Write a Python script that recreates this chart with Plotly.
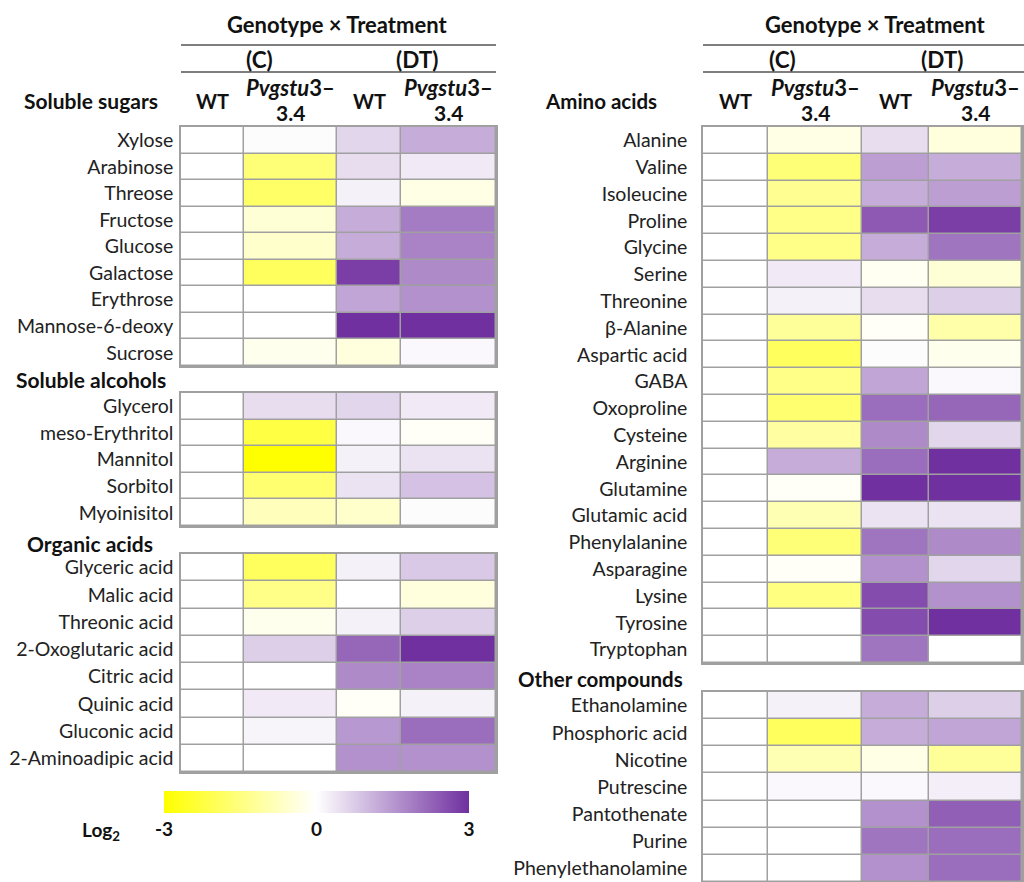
import plotly.graph_objects as go

# ---------------- data ----------------
columns = ["C-WT", "C-Pvgstu3-3.4", "DT-WT", "DT-Pvgstu3-3.4"]

sugars = ["Xylose", "Arabinose", "Threose", "Fructose", "Glucose", "Galactose",
          "Erythrose", "Mannose-6-deoxy", "Sucrose"]
sugars_z = [
    [0, 0.05, 0.6, 1.2],
    [0, -1.6, 0.5, 0.3],
    [0, -1.8, 0.2, -0.3],
    [0, -0.5, 1.2, 1.9],
    [0, -0.6, 1.2, 1.8],
    [0, -1.9, 2.8, 1.7],
    [0, 0.0, 1.3, 1.6],
    [0, 0.0, 3.0, 3.0],
    [0, -0.2, -0.4, 0.1],
]

alcohols = ["Glycerol", "meso-Erythritol", "Mannitol", "Sorbitol", "Myoinisitol"]
alcohols_z = [
    [0, 0.5, 0.6, 0.3],
    [0, -2.2, 0.1, -0.1],
    [0, -3.0, 0.2, 0.4],
    [0, -1.7, 0.4, 0.9],
    [0, -0.8, -0.6, 0.05],
]

acids = ["Glyceric acid", "Malic acid", "Threonic acid", "2-Oxoglutaric acid",
         "Citric acid", "Quinic acid", "Gluconic acid", "2-Aminoadipic acid"]
acids_z = [
    [0, -1.9, 0.2, 0.8],
    [0, -1.4, 0.0, -0.4],
    [0, -0.2, 0.2, 0.7],
    [0, 0.7, 2.2, 3.0],
    [0, 0.0, 1.7, 1.8],
    [0, 0.3, -0.1, 0.2],
    [0, 0.15, 1.5, 2.1],
    [0, 0.0, 1.6, 1.6],
]

amino = ["Alanine", "Valine", "Isoleucine", "Proline", "Glycine", "Serine",
         "Threonine", "β-Alanine", "Aspartic acid", "GABA", "Oxoproline",
         "Cysteine", "Arginine", "Glutamine", "Glutamic acid", "Phenylalanine",
         "Asparagine", "Lysine", "Tyrosine", "Tryptophan"]
amino_z = [
    [0, -0.3, 0.5, -0.4],
    [0, -1.6, 1.4, 1.2],
    [0, -1.3, 1.2, 1.4],
    [0, -1.4, 2.4, 2.8],
    [0, -1.4, 1.2, 2.0],
    [0, 0.3, -0.15, -0.5],
    [0, 0.2, 0.5, 0.7],
    [0, -1.2, -0.1, -1.0],
    [0, -1.9, 0.05, -0.2],
    [0, -1.4, 1.3, 0.1],
    [0, -1.7, 2.1, 2.2],
    [0, -1.1, 1.7, 0.6],
    [0, 1.2, 2.1, 3.0],
    [0, -0.1, 3.0, 3.0],
    [0, -0.9, 0.4, 0.4],
    [0, -1.6, 2.0, 1.7],
    [0, -0.1, 1.6, 0.6],
    [0, -1.5, 2.6, 1.6],
    [0, 0.0, 2.6, 3.0],
    [0, 0.0, 2.0, 0.0],
]

other = ["Ethanolamine", "Phosphoric acid", "Nicotine", "Putrescine",
         "Pantothenate", "Purine", "Phenylethanolamine"]
other_z = [
    [0, 0.2, 1.2, 0.7],
    [0, -1.9, 1.2, 1.3],
    [0, -0.9, -0.3, -1.2],
    [0, 0.1, 0.1, 0.25],
    [0, 0.0, 1.6, 2.3],
    [0, 0.0, 2.0, 2.1],
    [0, 0.0, 1.6, 2.1],
]

colorbar_ticks = [-3, 0, 3]

# ---------------- layout helpers (pixels) ----------------
W, H = 1024, 882
def px(x):
    return x / W
def py(y):
    return 1 - y / H

FONT = "Lato"
GRID = "#a0a0a0"

LEFT_EDGES = [181, 244, 337, 401, 496]
RIGHT_EDGES = [703, 768, 862, 929, 1022]

blocks = [
    # names, z, edges, top, bottom, ticklen
    (sugars, sugars_z, LEFT_EDGES, 127, 366, 2),
    (alcohols, alcohols_z, LEFT_EDGES, 393, 526, 2),
    (acids, acids_z, LEFT_EDGES, 554, 772, 2),
    (amino, amino_z, RIGHT_EDGES, 127, 663, 10),
    (other, other_z, RIGHT_EDGES, 692, 882, 10),
]

fig = go.Figure()
layout_axes = {}
for i, (names, z, edges, top, bot, tl) in enumerate(blocks, start=1):
    xa = "x" if i == 1 else f"x{i}"
    ya = "y" if i == 1 else f"y{i}"
    rel_edges = [e - edges[0] for e in edges]
    fig.add_trace(go.Heatmap(
        z=z, x=rel_edges, y=names, coloraxis="coloraxis",
        xgap=1.5, ygap=1.5, xaxis=xa, yaxis=ya,
        customdata=[columns] * len(names),
        hovertemplate="%{y}<br>%{customdata}: %{z}<extra></extra>",
    ))
    layout_axes["xaxis" if i == 1 else f"xaxis{i}"] = dict(
        domain=[px(edges[0]), px(edges[-1])], anchor=ya,
        range=[0, rel_edges[-1]], showticklabels=False, showgrid=False,
        zeroline=False, showline=True, mirror=True, linecolor=GRID, linewidth=1.5,
        ticks="", fixedrange=True,
    )
    layout_axes["yaxis" if i == 1 else f"yaxis{i}"] = dict(
        domain=[py(bot), py(top)], anchor=xa, autorange="reversed",
        type="category", showgrid=False, zeroline=False, showline=True,
        mirror=True, linecolor=GRID, linewidth=1.5,
        ticks="outside", ticklen=tl, tickcolor="rgba(0,0,0,0)",
        tickfont=dict(family=FONT, size=19.5, color="#222"), fixedrange=True,
    )

fig.update_layout(**layout_axes)

# ---------------- header annotations ----------------
ann = []
def text(x, y, t, size=19, bold=True, xanchor="center"):
    ann.append(dict(
        x=px(x), y=py(y), xref="paper", yref="paper", text=t, showarrow=False,
        xanchor=xanchor, yanchor="middle",
        font=dict(family=FONT, size=size, color="#111", weight="bold" if bold else "normal"),
    ))

shapes = []
def hline(x0, x1, y):
    shapes.append(dict(type="line", xref="paper", yref="paper",
                       x0=px(x0), x1=px(x1), y0=py(y), y1=py(y),
                       line=dict(color="#555", width=1.5)))

for edges, title_x in ((LEFT_EDGES, 337), (RIGHT_EDGES, 875)):
    text(title_x, 24, "Genotype × Treatment", size=22)
    right_end = edges[-1] if edges[-1] < 1000 else 1024
    hline(edges[0], right_end, 45)
    hline(edges[0], right_end, 72)
    text((edges[0] + edges[2]) / 2, 59, "(C)", size=22.5)
    text((edges[2] + edges[4]) / 2, 59, "(DT)", size=22.5)
    text((edges[0] + edges[1]) / 2, 101, "WT", size=20)
    text((edges[2] + edges[3]) / 2, 101, "WT", size=20)
    for c in (1, 3):
        cx = (edges[c] + edges[c + 1]) / 2
        text(cx, 88, "<i>Pvgstu</i>3–", size=22)
        text(cx, 113, "3.4", size=21)

text(22, 101, "Soluble sugars", size=21, xanchor="left")
text(14, 379, "Soluble alcohols", size=21, xanchor="left")
text(25, 543, "Organic acids", size=21, xanchor="left")
text(543, 101, "Amino acids", size=20.5, xanchor="left")
text(516, 679, "Other compounds", size=20.5, xanchor="left")
text(80, 831, "Log<sub>2</sub>", size=19, xanchor="left")

fig.update_layout(
    width=W, height=H, margin=dict(l=0, r=0, t=0, b=0),
    paper_bgcolor="white", plot_bgcolor=GRID,
    annotations=ann, shapes=shapes, showlegend=False,
    coloraxis=dict(
        cmin=-3, cmax=3,
        colorscale=[[0, "#FFFF00"], [0.5, "#FFFFFF"], [1, "#7030A0"]],
        colorbar=dict(
            orientation="h", x=px(316.5), xanchor="center",
            y=py(791), yanchor="top", lenmode="pixels", len=305,
            thickness=22, outlinewidth=0, xpad=0, ypad=0,
            tickvals=colorbar_ticks, ticktext=[str(v) for v in colorbar_ticks],
            ticks="", tickfont=dict(family=FONT, size=19, color="#111", weight="bold"),
        ),
    ),
)

fig.write_html("out.html", config={"displayModeBar": False},
               post_script="document.body.style.margin='0';")
